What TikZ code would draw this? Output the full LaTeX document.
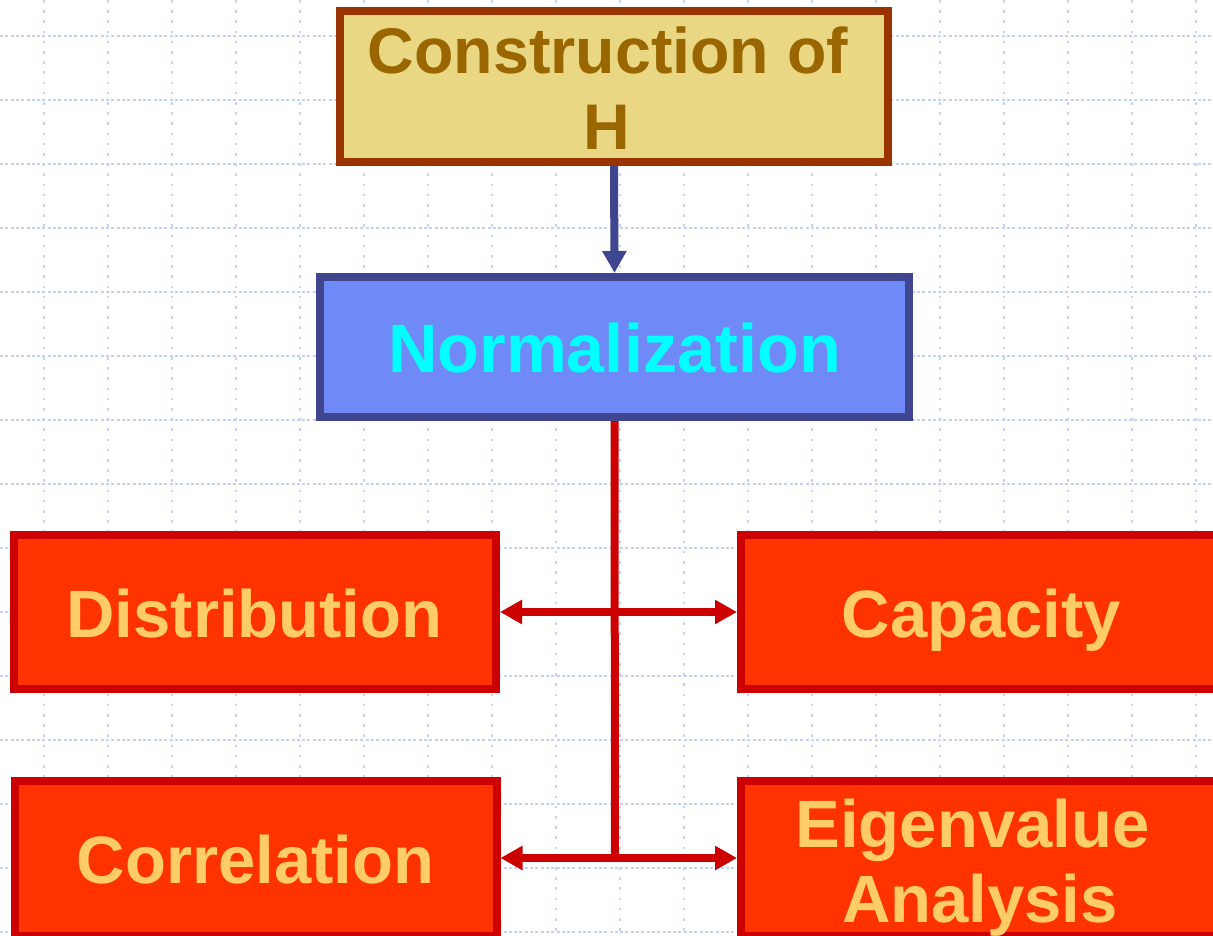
\documentclass[tikz,border=0pt]{standalone}
\usepackage{fontspec}
\setmainfont{Liberation Sans}
\usetikzlibrary{arrows.meta}
\definecolor{gridc}{HTML}{C4D2F8}
\definecolor{consfill}{HTML}{EAD784}
\definecolor{consdraw}{HTML}{993300}
\definecolor{constext}{HTML}{996600}
\definecolor{normfill}{HTML}{6F8AF7}
\definecolor{normdraw}{HTML}{3F468F}
\definecolor{normtext}{HTML}{00FFFF}
\definecolor{redfill}{HTML}{FF3300}
\definecolor{reddraw}{HTML}{CC0000}
\definecolor{redtext}{HTML}{FFCC66}
\tikzset{
  boxbase/.style={rectangle, line width=8pt, inner sep=0pt},
  consbox/.style={boxbase, fill=consfill, draw=consdraw},
  normbox/.style={boxbase, fill=normfill, draw=normdraw},
  redbox/.style={boxbase, fill=redfill, draw=reddraw, minimum width=482pt},
  txt/.style={anchor=base, inner sep=0pt, font=\bfseries\fontsize{67}{76}\selectfont},
  constxt/.style={txt, text=constext, font=\bfseries\fontsize{64.5}{76}\selectfont},
  redtxt/.style={txt, text=redtext},
  bluearrow/.style={draw=normdraw, line width=8pt, -{Triangle[width=23pt,length=22pt]}},
  redline/.style={draw=reddraw, line width=8pt},
  redarrow/.style={redline, -{Triangle[width=23pt,length=22pt]}},
  hgrid/.style={draw=gridc, line width=1.5pt, dash pattern=on 3pt off 2.3pt},
  vgrid/.style={draw=gridc, line width=1.5pt, dash pattern=on 2.5pt off 7.7pt}
}
\begin{document}
\begin{tikzpicture}[x=1pt, y=-1pt]
\useasboundingbox (0,0) rectangle (1213,935);
\clip (0,0) rectangle (1213,935);
\fill[white] (0,0) rectangle (1213,935);
% grid
\foreach \k in {0,...,18} { \draw[vgrid] (44+64*\k,0) -- (44+64*\k,935); }
\foreach \k in {0,...,14} { \draw[hgrid] (0,36+64*\k) -- (1213,36+64*\k); }
% boxes
\node[consbox, minimum width=548pt, minimum height=151pt] (cons) at (614,86.5) {};
\node[normbox, minimum width=589pt, minimum height=140pt] (norm) at (614.5,347) {};
\node[redbox, minimum height=154pt] (dist) at (255,612) {};
\node[redbox, minimum height=154pt] (cap) at (982,612) {};
\node[redbox, minimum height=155pt] (corr) at (255.5,858.5) {};
\node[redbox, minimum height=155pt] (eig) at (982,858.5) {};
% texts
\node[constxt] (tcons1) at (608,73) {Construction of};
\node[constxt] (tcons2) at (607,149) {H};
\node[txt, text=normtext, font=\bfseries\fontsize{68.5}{76}\selectfont] (tnorm) at (614.5,372) {Normalization};
\node[redtxt] (tdist) at (254.5,637) {Distribution};
\node[redtxt] (tcap) at (981.5,637) {Capacity};
\node[redtxt] (tcorr) at (255.5,883) {Correlation};
\node[redtxt] (teig1) at (972.5,847) {Eigenvalue};
\node[redtxt] (teig2) at (980,922) {Analysis};
% connectors
\draw[bluearrow] (cons.south) -- (norm.north);
\coordinate (jmid) at (norm.south |- dist.east);
\coordinate (jbot) at (615,858);
\draw[redline] (norm.south) -- (jbot);
\draw[redarrow] (jmid) -- (dist.east);
\draw[redarrow] (jmid) -- (cap.west);
\draw[redarrow] (jbot) -- (jbot -| corr.east);
\draw[redarrow] (jbot) -- (jbot -| eig.west);
\end{tikzpicture}
\end{document}
